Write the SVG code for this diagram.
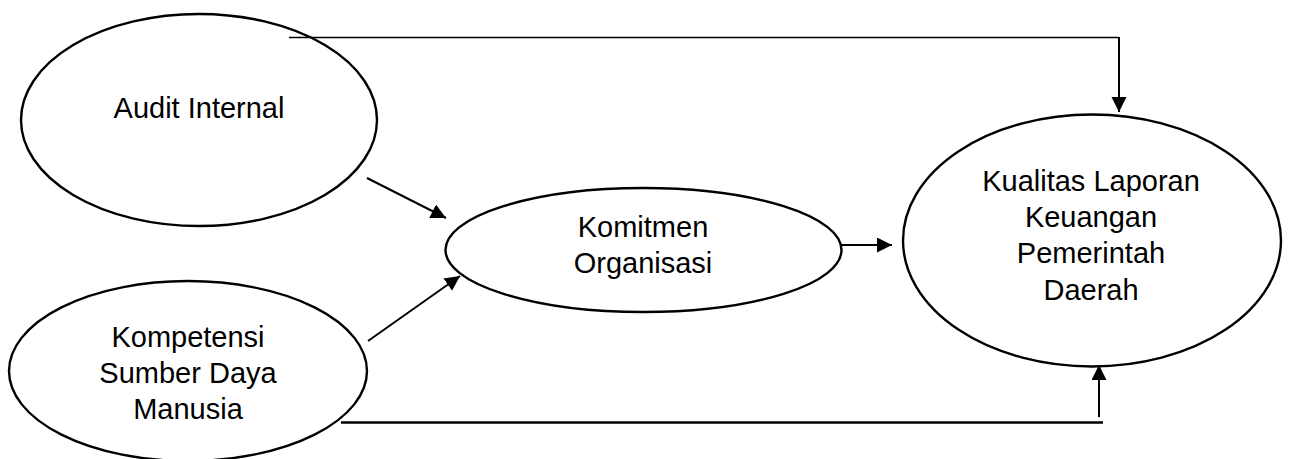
<svg xmlns="http://www.w3.org/2000/svg" width="1289" height="459" viewBox="0 0 1289 459">
<defs>
<style>
.node ellipse{fill:#fff;stroke:#000;stroke-width:2.4}
.node text{font-family:"Liberation Sans",Arial,sans-serif;font-size:29px;fill:#000;text-anchor:middle}
.conn line,.conn polyline{stroke:#000;fill:none;stroke-width:2}
</style>
<marker id="ah" markerUnits="userSpaceOnUse" markerWidth="16" markerHeight="16" refX="15" refY="7.5" orient="auto">
<path d="M0,0 L15,7.5 L0,15 z" fill="#000"/>
</marker>
</defs>
<rect width="1289" height="459" fill="#fff"/>
<g id="n-audit" class="node">
<ellipse cx="199" cy="120" rx="178" ry="106"/>
<text x="199" y="118">Audit Internal</text>
</g>
<g id="n-kompetensi" class="node">
<ellipse cx="188" cy="371" rx="179" ry="90"/>
<text x="188" y="347">Kompetensi</text>
<text x="188" y="383">Sumber Daya</text>
<text x="188" y="419">Manusia</text>
</g>
<g id="n-komitmen" class="node">
<ellipse cx="643.5" cy="250" rx="198" ry="62"/>
<text x="643" y="237">Komitmen</text>
<text x="643" y="273">Organisasi</text>
</g>
<g id="n-kualitas" class="node">
<ellipse cx="1092" cy="240.5" rx="189" ry="126"/>
<text x="1091" y="191">Kualitas Laporan</text>
<text x="1091" y="227">Keuangan</text>
<text x="1091" y="263">Pemerintah</text>
<text x="1091" y="300">Daerah</text>
</g>
<g id="connectors" class="conn">
<polyline points="289,37.5 1119,37.5" style="stroke-width:1.4"/>
<line x1="1119" y1="37" x2="1119" y2="112" marker-end="url(#ah)"/>
<line x1="367" y1="178" x2="446" y2="218" marker-end="url(#ah)"/>
<line x1="368" y1="341" x2="460" y2="276" marker-end="url(#ah)"/>
<line x1="840" y1="245" x2="892" y2="245" marker-end="url(#ah)"/>
<polyline points="341,422.5 1103,422.5" style="stroke-width:2.6"/>
<line x1="1099" y1="417" x2="1099" y2="365" marker-end="url(#ah)"/>
</g>
</svg>
